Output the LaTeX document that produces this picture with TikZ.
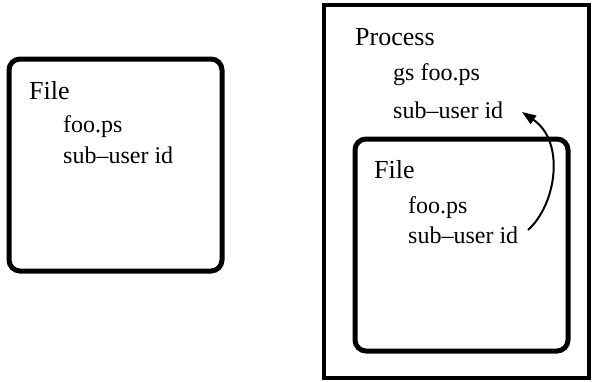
\documentclass[tikz,border=0pt]{standalone}
\usepackage{fontspec}
\setmainfont{Liberation Serif}
\usetikzlibrary{arrows.meta}
\begin{document}
\begin{tikzpicture}[x=1pt,y=-1pt,
  filebox/.style={line width=5pt,rounded corners=11pt},
  procbox/.style={line width=4.5pt},
  title/.style={anchor=base west,inner sep=0pt,font=\fontsize{26}{30}\selectfont},
  item/.style={anchor=base west,inner sep=0pt,font=\fontsize{24}{28}\selectfont},
  link/.style={line width=2pt,-{Triangle[length=14pt,width=10pt]}}]
\useasboundingbox (0,0) rectangle (592,381);
% left file
\draw[filebox] (9,59) rectangle (222,271);
\node[title] (lfile) at (29,99) {File};
\node[item] (lfoo) at (63,132) {foo.ps};
\node[item] (lsub) at (63,163) {sub–user id};
% process
\draw[procbox] (324,5) rectangle (589,378);
\node[title] (proc) at (355,45) {Process};
\node[item] (pgs) at (393,80) {gs foo.ps};
\node[item] (psub) at (393,118) {sub–user id};
% inner file
\draw[filebox] (355,139) rectangle (568,351);
\node[title] (ifile) at (374,178) {File};
\node[item] (ifoo) at (408,213) {foo.ps};
\node[item] (isub) at (408,243) {sub–user id};
% arrow
\coordinate (tail) at (528,230);
\coordinate (tip) at (522,112);
\draw[link] (tail) .. controls (556,205) and (566,142) .. (tip);
\end{tikzpicture}
\end{document}
